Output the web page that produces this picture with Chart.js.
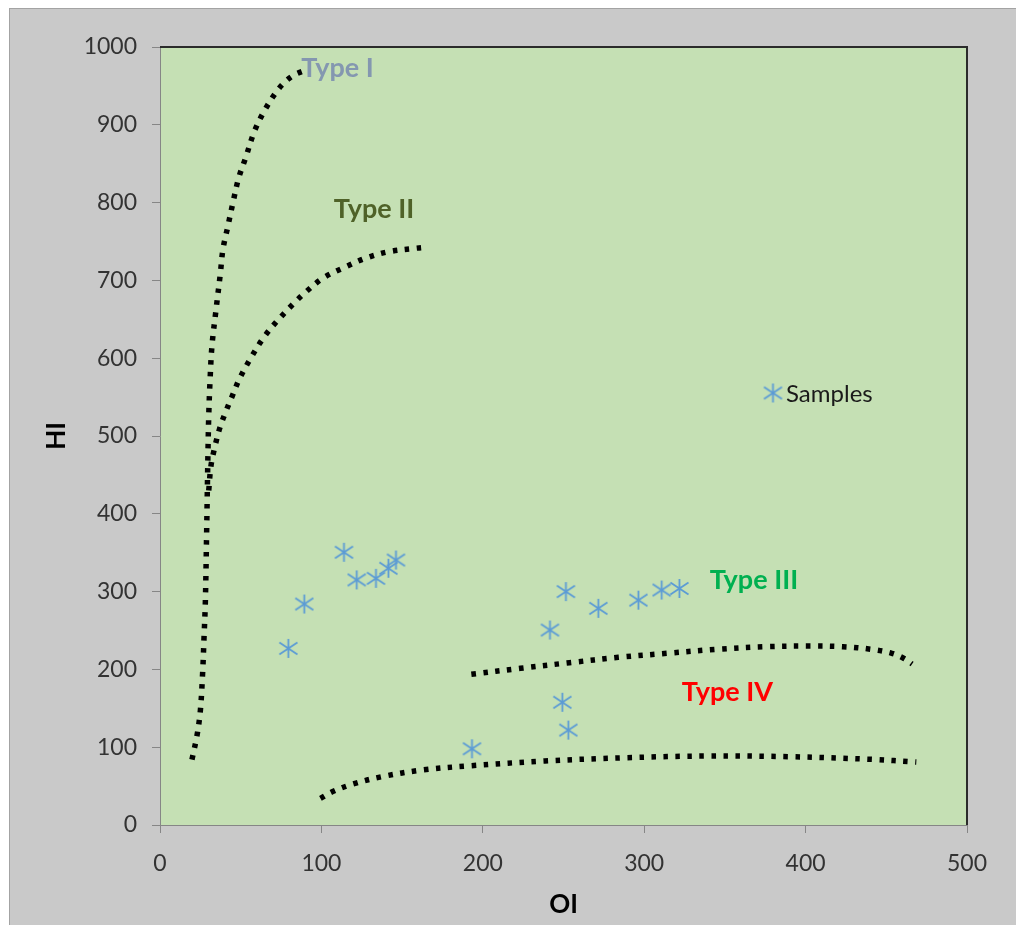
<!DOCTYPE html>
<html>
<head>
<meta charset="utf-8">
<title>HI vs OI</title>
<script src="https://cdn.jsdelivr.net/npm/chart.js@4.4.1/dist/chart.umd.min.js"></script>
<style>
  html, body { margin: 0; padding: 0; background: #fff; }
  #wrap { width: 1016px; height: 925px; }
</style>
</head>
<body>
<div id="wrap"><canvas id="chart" width="1016" height="925"></canvas></div>
<script>
// measured samples
const sampleOI = [79.5, 89.4, 114, 121.9, 133.8, 141.5, 146.2, 241.6, 251.5, 271.6, 296.4, 310.8, 321.8, 249.3, 253, 193.3];
const sampleHI = [227, 284, 350.5, 315, 317, 330, 340.6, 250.6, 300, 278.5, 289, 302, 304, 157.7, 122, 98];

// kerogen type boundaries
const type1OI = [19.8, 23, 25, 26.4, 27.3, 28.1, 28.9, 29.7, 30.2, 31, 32.2, 34.7, 37.4, 39, 42.1, 45.2, 48.8, 53.3, 58.2, 64.4, 72.3, 77.4, 83, 89.8];
const type1HI = [84, 116, 147, 195, 242, 287, 377, 476, 526, 571, 616, 662, 709, 740, 770, 800, 832, 859, 890, 917, 943, 955, 964, 970];

const type2OI = [30.2, 31.6, 34.1, 37, 40.5, 44.5, 49.1, 56.2, 64.4, 73.5, 83.6, 89.2, 101, 114.6, 128, 142, 157, 164];
const type2HI = [430, 462, 487, 510, 530, 550, 573, 600, 627, 650, 672, 683, 703, 717, 729, 737, 741, 742.5];

const type3OI = [192.9, 223.3, 253.7, 284, 314.3, 344.7, 375, 402.8, 423.1, 440.8, 453.4, 461, 466];
const type3HI = [193.7, 201.4, 208.6, 215.5, 220.7, 225.8, 229.2, 230, 229.2, 225.8, 220.7, 214, 207];

const type4OI = [99.4, 107, 119.6, 137.3, 162.6, 192.9, 238.5, 289, 339.7, 390.2, 440.8, 468.6];
const type4HI = [34.3, 43, 52.7, 62, 70.7, 76.2, 82.3, 86.5, 88.7, 87.8, 84.4, 81];

const oiTicks = [0, 100, 200, 300, 400, 500];
const hiTicks = [0, 100, 200, 300, 400, 500, 600, 700, 800, 900, 1000];

// zone labels (OI, HI of the text baseline centre)
const zoneLabels = [
  { text: 'Type I',   oi: 110,   hi: 962, color: '#8497b0' },
  { text: 'Type II',  oi: 132.6, hi: 780, color: '#4f6228' },
  { text: 'Type III', oi: 368,   hi: 303, color: '#00b050' },
  { text: 'Type IV',  oi: 351.6, hi: 159, color: '#ff0000' }
];

const FONT = 'Lato';

function starMarker(size, color) {
  const c = document.createElement('canvas');
  c.width = size; c.height = size;
  const g = c.getContext('2d');
  const m = size / 2, r = size / 2 - 1;
  g.strokeStyle = color;
  g.lineWidth = 1.8;
  g.beginPath();
  g.moveTo(m, m - r); g.lineTo(m, m + r);
  const dx = r * 0.95, dy = r * 0.62;
  g.moveTo(m - dx, m - dy); g.lineTo(m + dx, m + dy);
  g.moveTo(m - dx, m + dy); g.lineTo(m + dx, m - dy);
  g.stroke();
  return c;
}

const marker = starMarker(21, '#5b9bd5');

function pairs(xs, ys) {
  return xs.map((x, i) => ({ x: x, y: ys[i] }));
}

function curve(label, xs, ys) {
  return {
    label: label,
    data: pairs(xs, ys),
    showLine: true,
    borderColor: '#000',
    borderWidth: 5.5,
    borderDash: [4.5, 7.5],
    pointRadius: 0,
    tension: 0.35,
    fill: false,
    order: 2
  };
}

const backdrop = {
  id: 'backdrop',
  beforeDraw(chart) {
    const ctx = chart.ctx, a = chart.chartArea;
    ctx.save();
    ctx.fillStyle = '#ffffff';
    ctx.fillRect(0, 0, chart.width, chart.height);
    ctx.fillStyle = '#c9c9c9';
    ctx.fillRect(9, 8, chart.width - 9, chart.height - 8);
    ctx.strokeStyle = '#a3a3a3';
    ctx.lineWidth = 1;
    ctx.strokeRect(9.5, 8.5, chart.width + 10, chart.height + 10);
    ctx.fillStyle = '#c5e0b4';
    ctx.fillRect(a.left, a.top, a.right - a.left, a.bottom - a.top);
    ctx.restore();
  },
  afterDatasetsDraw(chart) {
    const ctx = chart.ctx, xs = chart.scales.x, ys = chart.scales.y;
    ctx.save();
    ctx.font = 'bold 27px ' + FONT;
    ctx.textAlign = 'center';
    ctx.textBaseline = 'alphabetic';
    zoneLabels.forEach(l => {
      ctx.fillStyle = l.color;
      ctx.fillText(l.text, xs.getPixelForValue(l.oi), ys.getPixelForValue(l.hi));
    });
    ctx.restore();
  },
  afterDraw(chart) {
    const ctx = chart.ctx, a = chart.chartArea;
    ctx.save();
    // dark top/right frame
    ctx.strokeStyle = '#2b2b2b';
    ctx.lineWidth = 2;
    ctx.beginPath();
    ctx.moveTo(a.left, a.top);
    ctx.lineTo(a.right, a.top);
    ctx.lineTo(a.right, a.bottom);
    ctx.stroke();
    // legend inside the plot
    const ds = chart.data.datasets[0];
    const lx = a.left + 613, ly = a.top + 346;
    ctx.drawImage(marker, lx - marker.width / 2, ly - marker.height / 2);
    ctx.fillStyle = '#1a1a1a';
    ctx.font = '24px ' + FONT;
    ctx.textAlign = 'left';
    ctx.textBaseline = 'middle';
    ctx.fillText(ds.label, lx + 13, ly + 1);
    ctx.restore();
  }
};

new Chart(document.getElementById('chart'), {
  type: 'scatter',
  data: {
    datasets: [
      {
        label: 'Samples',
        data: pairs(sampleOI, sampleHI),
        pointStyle: marker,
        pointRadius: 10,
        order: 1
      },
      curve('Type I', type1OI, type1HI),
      curve('Type II', type2OI, type2HI),
      curve('Type III', type3OI, type3HI),
      curve('Type IV', type4OI, type4HI)
    ]
  },
  options: {
    responsive: false,
    animation: false,
    layout: { padding: { left: 0, top: 47, right: 49, bottom: 0 } },
    plugins: {
      legend: { display: false },
      tooltip: { enabled: false }
    },
    scales: {
      x: {
        type: 'linear',
        min: 0,
        max: 500,
        afterBuildTicks: s => { s.ticks = oiTicks.map(v => ({ value: v })); },
        afterFit: s => { s.height = 100; },
        grid: { drawOnChartArea: false, tickLength: 8, color: '#868686' },
        border: { color: '#868686', width: 1 },
        ticks: { padding: 17, color: '#333', autoSkip: false, maxRotation: 0, font: { family: FONT, size: 23 }, callback: v => String(v) },
        title: { display: true, text: 'OI', color: '#000', padding: { top: 0, bottom: 5 }, font: { family: FONT, size: 26, weight: 'bold' } }
      },
      y: {
        type: 'linear',
        min: 0,
        max: 1000,
        afterBuildTicks: s => { s.ticks = hiTicks.map(v => ({ value: v })); },
        afterFit: s => { s.width = 160; },
        grid: { drawOnChartArea: false, tickLength: 8, color: '#868686' },
        border: { color: '#868686', width: 1 },
        ticks: { padding: 15, color: '#333', autoSkip: false, font: { family: FONT, size: 23 }, callback: v => String(v) },
        title: { display: true, text: 'HI', color: '#000', padding: { top: 41, bottom: 0 }, font: { family: FONT, size: 26, weight: 'bold' } }
      }
    }
  },
  plugins: [backdrop]
});
</script>
</body>
</html>
